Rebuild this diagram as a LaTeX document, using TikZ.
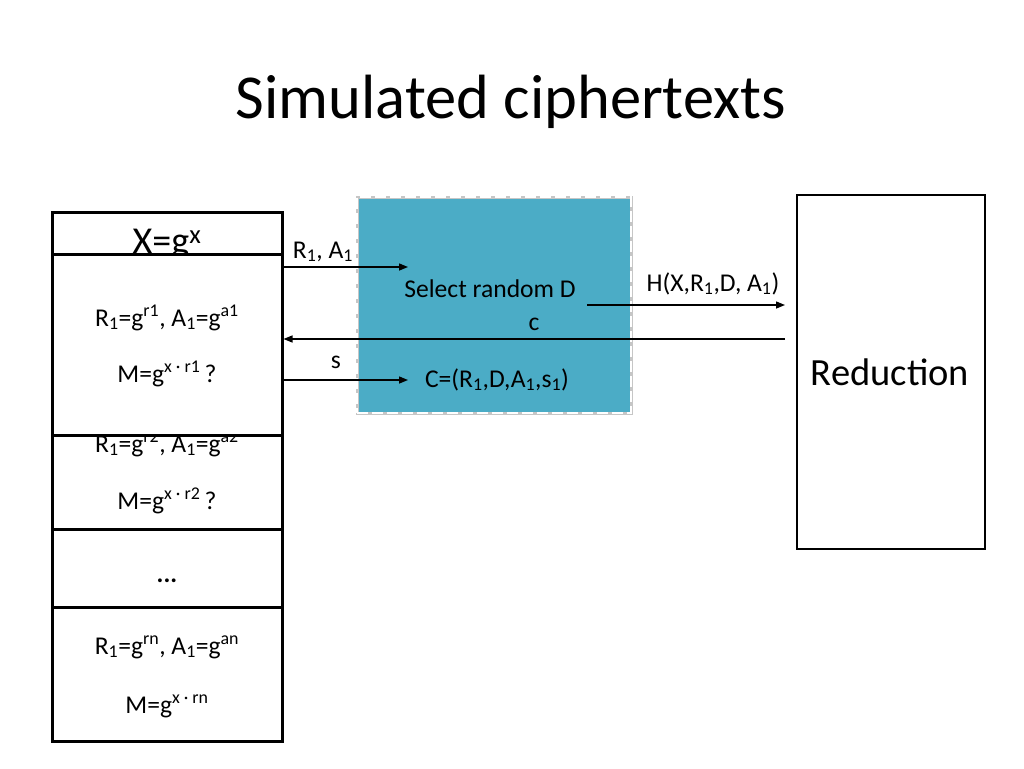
\documentclass[tikz,border=0pt]{standalone}
\usepackage{fontspec}
\setmainfont{Carlito}
\usetikzlibrary{arrows.meta}
\definecolor{simblue}{RGB}{75,172,198}
\newcommand{\lo}[1]{\textsubscript{#1}}
\newcommand{\hi}[1]{\textsuperscript{#1}}

\begin{document}
\begin{tikzpicture}[x=1pt, y=-1pt,
    every node/.style={font=\fontsize{25.6}{30}\selectfont, inner sep=0pt},
    cell/.style={draw, line width=3pt, fill=white, minimum width=230pt},
    line/.style={anchor=base},
    simbox/.style={draw=gray!45, line width=3pt, fill=simblue, minimum width=274pt, minimum height=216pt,
        postaction={draw=white, line width=2.5pt, dash pattern=on 11pt off 4pt}},
    msg/.style={-{Triangle[length=9pt, width=7pt]}, line width=1.4pt}
]
    \path[fill=white] (0,0) rectangle (1024,768);
    \node[line, font=\fontsize{62.5}{70}\selectfont] (title) at (511,118) {Simulated ciphertexts};

    % left column of ciphertexts
    \node[cell, minimum height=50pt] (c0) at (167,237) {};
    \node[line, font=\fontsize{38}{42}\selectfont] (xg) at (167,253) {X=g\hi{x}};
    \node[cell, minimum height=116pt] (c2) at (167,471) {};
    \node[line] (c2a) at (167,452) {R\lo1=g\hi{r2}, A\lo1=g\hi{a2}};
    \node[line] (c2b) at (167,509) {M=g\hi{x · r2}\,?};
    \node[cell, minimum height=78pt] (c3) at (167,568) {};
    \node[line] (dots) at (167,582) {\textbf{...}};
    \node[cell, minimum height=134pt] (cn) at (167,674) {};
    \node[line] (cna) at (167,654) {R\lo1=g\hi{rn}, A\lo1=g\hi{an}};
    \node[line] (cnb) at (167,713) {M=g\hi{x · rn}};
    \node[cell, minimum height=181pt] (c1) at (167,344.5) {};
    \node[line] (c1a) at (167,326) {R\lo1=g\hi{r1}, A\lo1=g\hi{a1}};
    \node[line] (c1b) at (167,382) {M=g\hi{x · r1}\,?};

    % simulator
    \node[simbox] (sim) at (494,305) {};
    \node[line] (selD) at (490,297) {Select random D};
    \node[line] (cC) at (497,387) {C=(R\lo1,D,A\lo1,s\lo1)};

    % reduction
    \node[draw, line width=2.5pt, minimum width=188pt, minimum height=354pt] (red) at (891,372) {};
    \node[line, font=\fontsize{38.5}{44}\selectfont] (redT) at (890,385) {Reduction};

    \coordinate (inR) at (408,267);
    \coordinate (outH) at (587,305);
    \coordinate (cR) at (785,339);
    \coordinate (inS) at (408,380);
    \draw[msg] (c1.east |- inR) -- (inR);
    \draw[msg] (outH) -- (outH -| cR);
    \draw[msg] (cR) -- (cR -| c1.east);
    \draw[msg] (c1.east |- inS) -- (inS);
    \node[line] (lRA) at (323,258) {R\lo1, A\lo1};
    \node[line] (lH) at (713,291) {H(X,R\lo1,D, A\lo1)};
    \node[line] (lc) at (534,330) {c};
    \node[line] (ls) at (336,368) {s};
\end{tikzpicture}
\end{document}
